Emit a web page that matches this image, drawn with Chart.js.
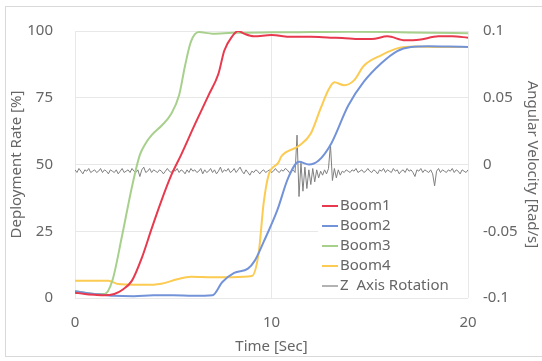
<!DOCTYPE html>
<html>
<head>
<meta charset="utf-8">
<script src="https://cdn.jsdelivr.net/npm/chart.js@4.4.1/dist/chart.umd.min.js"></script>
<style>
  html,body{margin:0;padding:0;background:#fff;}
  canvas{display:block;}
</style>
</head>
<body>
<canvas id="chart" width="542" height="361"></canvas>
<script>
// ---------- Daten ----------
const seriesNames = ['Boom1', 'Boom2', 'Boom3', 'Boom4', 'Z  Axis Rotation'];
const xTicks = [0, 10, 20];
const rateTicks = [0, 25, 50, 75, 100];
const velTicks = [-0.1, -0.05, 0, 0.05, 0.1];

const boom1Time = [0, 0.5, 1, 1.5, 2, 2.4, 2.9, 3.4, 3.9, 4.4, 4.9, 5.4, 6.1, 6.8, 7.3, 7.6, 8.0, 8.3, 8.6, 9.1, 10, 11, 12, 13, 13.6, 14.5, 15.1, 15.9, 16.8, 17.5, 18.5, 19.2, 20];
const boom1Rate = [2, 1.5, 1.2, 1, 1.5, 3, 6.5, 15, 26, 36.5, 46, 53.6, 65, 76, 84, 92.7, 98, 100, 99, 98, 98.5, 97.8, 97.8, 97.5, 97.4, 97, 97, 98, 96.5, 96.7, 98, 98, 97.5];

const boom2Time = [0, 0.5, 1, 2, 3, 4, 5, 6, 7, 7.5, 8.1, 8.8, 9.15, 9.6, 10.3, 10.85, 11.4, 11.9, 12.4, 13.05, 13.9, 14.7, 15.6, 16.4, 17.1, 18, 19, 20];
const boom2Rate = [2.5, 2, 1.5, 0.8, 0.7, 1, 1, 0.8, 1, 6, 9.4, 11, 14, 21, 33, 45, 51, 50, 51.5, 58, 72, 81, 88, 92.5, 94, 94.3, 94.2, 94];

const boom3Time = [0, 0.5, 1, 1.5, 1.9, 2.4, 2.9, 3.3, 3.6, 3.9, 4.4, 4.9, 5.3, 5.6, 5.9, 6.3, 7, 8, 10, 12, 14, 16, 18, 20];
const boom3Rate = [2.5, 2, 1.5, 1.5, 6.5, 23.5, 41.7, 53.6, 58, 61, 64.5, 69, 76, 87, 96, 99.6, 99, 99.3, 99.5, 99.6, 99.7, 99.6, 99.3, 99.2];

const boom4Time = [0, 1, 1.7, 2.2, 3, 4, 4.4, 5.2, 5.9, 7, 8, 9, 9.35, 9.6, 9.85, 10.35, 10.5, 11.4, 12.0, 12.5, 12.9, 13.2, 13.7, 14.2, 14.7, 15.6, 16.4, 17.3, 18.5, 20];
const boom4Rate = [6.5, 6.5, 6.5, 5.2, 5, 5, 5.3, 7, 8, 7.8, 7.8, 8.2, 17, 35.5, 46, 50.7, 53, 57, 61.6, 71, 78, 80.8, 79.7, 81.5, 87, 91, 93.5, 94.2, 94, 94];

// Z-Achse, Abtastung alle 0.1 s
const zRate = [
  -0.004,-0.006,-0.003,-0.005,-0.007,-0.004,-0.005,-0.003,-0.006,-0.005,-0.004,
  -0.006,-0.005,-0.003,-0.006,-0.004,-0.005,-0.007,-0.004,-0.005,-0.006,
  -0.004,-0.007,-0.005,-0.003,-0.006,-0.005,-0.004,-0.006,-0.003,-0.005,
  -0.006,-0.004,-0.009,-0.004,-0.002,-0.006,-0.005,-0.003,-0.006,-0.004,
  -0.005,-0.006,-0.004,-0.005,-0.007,-0.005,-0.003,-0.005,-0.006,-0.004,
  -0.005,-0.003,-0.006,-0.004,-0.005,-0.007,-0.004,-0.006,-0.003,-0.005,
  -0.004,-0.006,-0.005,-0.003,-0.007,-0.004,-0.006,-0.005,-0.003,-0.006,
  -0.004,-0.007,-0.005,-0.002,-0.006,-0.004,-0.005,-0.003,-0.006,-0.005,
  -0.003,-0.006,-0.004,-0.002,-0.005,-0.007,-0.004,-0.006,-0.008,-0.005,
  -0.006,-0.004,-0.005,-0.007,-0.005,-0.004,-0.006,-0.005,-0.004,-0.006,
  -0.005,-0.003,-0.005,-0.006,-0.004,-0.005,-0.003,-0.004,-0.006,-0.005,
  -0.004,-0.006,0.022,-0.024,0.001,-0.020,-0.002,-0.018,-0.004,-0.015,
  -0.003,-0.013,-0.004,-0.010,-0.005,-0.008,-0.004,-0.007,-0.003,0.015,
  -0.012,-0.003,-0.010,-0.004,-0.008,-0.005,-0.006,-0.004,-0.005,-0.006,
  -0.004,-0.005,-0.003,-0.006,-0.005,-0.004,-0.006,-0.005,-0.003,-0.005,
  -0.006,-0.004,-0.005,-0.007,-0.004,-0.005,-0.003,-0.006,-0.004,-0.005,
  -0.006,-0.003,-0.005,-0.004,-0.007,-0.005,-0.004,-0.006,-0.003,-0.005,
  -0.004,-0.006,-0.009,-0.004,-0.005,-0.003,-0.006,-0.004,-0.005,-0.006,
  -0.004,-0.007,-0.016,-0.005,-0.003,-0.006,-0.004,-0.005,-0.006,-0.004,
  -0.005,-0.003,-0.006,-0.004,-0.005,-0.007,-0.004,-0.005,-0.006,-0.004
];

const colors = ['#e83a4e', '#7393d9', '#a8d08d', '#fbcb52', '#808080'];
const FONT = '"Noto Sans", sans-serif';
const TEXT = '#666666';

// ---------- Hilfen ----------
function pts(ts, vs){ return ts.map((t,i)=>({x:t, y:vs[i]})); }
function boom(i, ts, vs){
  return {label:seriesNames[i], data:pts(ts,vs), yAxisID:'y', borderColor:colors[i], backgroundColor:colors[i],
    borderWidth:2, pointRadius:0, cubicInterpolationMode:'monotone', fill:false};
}

// Rahmen + Hintergrund
const framePlugin = {
  id:'frame',
  beforeDraw(chart){
    const {ctx, width, height} = chart;
    ctx.save();
    ctx.fillStyle = '#fff'; ctx.fillRect(0,0,width,height);
    ctx.strokeStyle = '#d9d9d9'; ctx.lineWidth = 1;
    ctx.strokeRect(5.5, 6.5, width + 20, 350);
    ctx.restore();
  }
};

// Legende im Diagramm unten rechts
const insideLegend = {
  id:'insideLegend',
  afterDatasetsDraw(chart){
    const {ctx, chartArea:a} = chart;
    const x0 = a.right - 150, y0 = a.bottom - 106;
    ctx.save();
    ctx.fillStyle = '#fff';
    ctx.fillRect(x0, y0, a.right - x0, a.bottom - y0);
    ctx.font = '15px ' + FONT;
    ctx.textBaseline = 'middle';
    chart.data.datasets.forEach((ds,i)=>{
      const y = y0 + 14 + i*20;
      ctx.strokeStyle = ds.borderColor; ctx.lineWidth = i===4 ? 1.2 : 2;
      ctx.beginPath(); ctx.moveTo(x0+4, y); ctx.lineTo(x0+20, y); ctx.stroke();
      ctx.fillStyle = TEXT; ctx.fillText(ds.label, x0+22, y);
    });
    ctx.restore();
  }
};

new Chart(document.getElementById('chart').getContext('2d'), {
  type:'line',
  data:{datasets:[
    boom(0, boom1Time, boom1Rate),
    boom(1, boom2Time, boom2Rate),
    boom(2, boom3Time, boom3Rate),
    boom(3, boom4Time, boom4Rate),
    {label:seriesNames[4], data:zRate.map((v,i)=>({x:i/10, y:v})), yAxisID:'y2', borderColor:colors[4],
      backgroundColor:colors[4], borderWidth:1, pointRadius:0, tension:0, fill:false}
  ]},
  options:{
    responsive:false, animation:false, devicePixelRatio:1,
    layout:{padding:{top:22, left:0, right:0, bottom:0}},
    plugins:{legend:{display:false}, tooltip:{enabled:false}},
    scales:{
      x:{type:'linear', min:0, max:20,
        afterBuildTicks:s=>{ s.ticks = xTicks.map(v=>({value:v})); },
        afterFit:s=>{ s.height = 63; },
        grid:{color:'#e8e8e8', drawTicks:false}, border:{display:false},
        ticks:{padding:16, color:TEXT, font:{family:FONT, size:15}, maxRotation:0},
        title:{display:true, text:'Time [Sec]', color:TEXT, font:{family:FONT, size:15}, padding:{top:0, bottom:5}}
      },
      y:{position:'left', min:0, max:100,
        afterBuildTicks:s=>{ s.ticks = rateTicks.map(v=>({value:v})); },
        afterFit:s=>{ s.width = 75; },
        grid:{color:'#e8e8e8', drawTicks:false}, border:{display:false},
        ticks:{padding:22, color:TEXT, font:{family:FONT, size:15}},
        title:{display:true, text:'Deployment Rate [%]', color:TEXT, font:{family:FONT, size:15}, padding:{top:8, bottom:0}}
      },
      y2:{position:'right', min:-0.1, max:0.1,
        afterBuildTicks:s=>{ s.ticks = velTicks.map(v=>({value:v})); },
        afterFit:s=>{ s.width = 74; },
        grid:{display:false, drawTicks:false}, border:{display:false},
        ticks:{padding:15, color:TEXT, font:{family:FONT, size:15}, callback:v=>String(v)},
        title:{display:true, text:'Angular Velocity [Rad/s]', color:TEXT, font:{family:FONT, size:15}, padding:{top:1, bottom:0}}
      }
    }
  },
  plugins:[framePlugin, insideLegend]
});
</script>
</body>
</html>
